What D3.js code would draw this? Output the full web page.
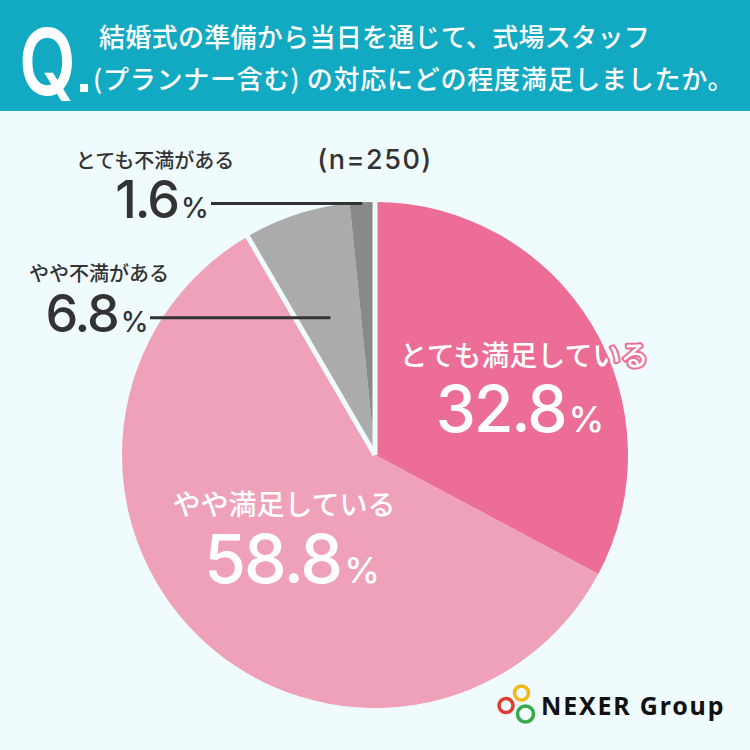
<!DOCTYPE html>
<html>
<head>
<meta charset="utf-8">
<script src="https://cdn.jsdelivr.net/npm/d3@7"></script>
<style>
  html, body { margin: 0; padding: 0; background: #f0fbfd; }
  svg { display: block; }
</style>
</head>
<body>
<div id="chart"></div>
<script>
// survey data
var categories = ["とても満足している", "やや満足している", "やや不満がある", "とても不満がある"];
var values = [32.8, 58.8, 6.8, 1.6];
var colors = ["#ec6d95", "#f0a1ba", "#ababab", "#898989"];
var titleLines = ["結婚式の準備から当日を通じて、式場スタッフ", "(プランナー含む) の対応にどの程度満足しましたか。"];
var sampleLabel = "(n=250)";

var width = 750, height = 750;
var cx = 375, cy = 455, radius = 253;
var jp = "'Noto Sans CJK JP', 'Noto Sans', sans-serif";
var num = "Inter, 'Noto Sans', sans-serif";

var svg = d3.select("#chart").append("svg")
    .attr("width", width)
    .attr("height", height);

svg.append("rect").attr("width", width).attr("height", height).attr("fill", "#f0fbfd");

// header band
svg.append("rect").attr("width", width).attr("height", 111).attr("fill", "#12aac2");
svg.append("text")
    .attr("transform", "translate(19,95) scale(0.8,1)")
    .attr("font-family", num)
    .attr("font-weight", 600)
    .attr("font-size", 92)
    .attr("fill", "#fff")
    .text("Q");
svg.append("rect").attr("x", 80).attr("y", 84).attr("width", 8).attr("height", 8).attr("fill", "#fff");
svg.append("text")
    .attr("x", 99).attr("y", 47)
    .attr("font-family", jp).attr("font-size", 26).attr("font-weight", 500)
    .attr("letter-spacing", 0.3)
    .attr("fill", "#fff")
    .text(titleLines[0]);
svg.append("text")
    .attr("x", 93).attr("y", 89)
    .attr("font-family", jp).attr("font-size", 26).attr("font-weight", 500)
    .attr("letter-spacing", 0.75)
    .attr("fill", "#fff")
    .text(titleLines[1]);

// pie
var pie = d3.pie().sort(null).value(function (d) { return d; });
var arcs = pie(values);
var arc = d3.arc().innerRadius(0).outerRadius(radius);
var chart = svg.append("g").attr("transform", "translate(" + cx + "," + cy + ")");

chart.selectAll("path.slice")
    .data(arcs)
    .enter().append("path")
    .attr("class", "slice")
    .attr("d", arc)
    .attr("fill", function (d, i) { return colors[i]; });

// white separators: between the satisfied group and the unsatisfied group
var sepAngles = [0, arcs[1].endAngle];
sepAngles.forEach(function (a) {
    chart.append("line")
        .attr("x1", 0).attr("y1", 0)
        .attr("x2", Math.sin(a) * (radius + 2))
        .attr("y2", -Math.cos(a) * (radius + 2))
        .attr("stroke", "#f0fbfd")
        .attr("stroke-width", 5);
});

// percentage label: big number + small %
function pctLabel(g, x, y, value, size, pctSize, fill) {
    var t = g.append("text")
        .attr("x", x).attr("y", y)
        .attr("text-anchor", "middle")
        .attr("font-family", num)
        .attr("font-weight", 500)
        .attr("fill", fill)
        .attr("letter-spacing", -2);
    t.append("tspan").attr("font-size", size).text(value.toFixed(1));
    t.append("tspan").attr("font-size", pctSize).attr("dx", 3).text("%");
    return t;
}

svg.append("text")
    .attr("x", 524).attr("y", 366)
    .attr("text-anchor", "middle")
    .attr("font-family", jp).attr("font-size", 28).attr("font-weight", 500)
    .attr("fill", "#fff")
    .attr("stroke", colors[0]).attr("stroke-width", 4)
    .attr("stroke-linejoin", "round")
    .attr("paint-order", "stroke")
    .text(categories[0]);
pctLabel(svg, 519, 432, values[0], 64, 36, "#fff");

svg.append("text")
    .attr("x", 284).attr("y", 515)
    .attr("text-anchor", "middle")
    .attr("font-family", jp).attr("font-size", 28).attr("font-weight", 500)
    .attr("fill", "#fff")
    .text(categories[1]);
pctLabel(svg, 291, 583, values[1], 68, 36, "#fff");

// outside labels with leader lines
var outside = [
    { i: 3, nameX: 155, nameY: 168, numX: 161, numY: 218, lineX: 211, r: 0.995 },
    { i: 2, nameX: 99, nameY: 281, numX: 96, numY: 332, lineX: 150, r: 0.57 }
];
outside.forEach(function (o) {
    var a = (arcs[o.i].startAngle + arcs[o.i].endAngle) / 2;
    var px = cx + Math.sin(a) * radius * o.r;
    var py = cy - Math.cos(a) * radius * o.r;
    svg.append("line")
        .attr("x1", o.lineX).attr("y1", py)
        .attr("x2", px).attr("y2", py)
        .attr("stroke", "#333").attr("stroke-width", 3);
    svg.append("text")
        .attr("x", o.nameX).attr("y", o.nameY)
        .attr("text-anchor", "middle")
        .attr("font-family", jp).attr("font-size", 20).attr("font-weight", 500)
        .attr("fill", "#333")
        .text(categories[o.i]);
    pctLabel(svg, o.numX, o.numY, values[o.i], 52, 28, "#333");
});

svg.append("text")
    .attr("x", 375).attr("y", 169)
    .attr("text-anchor", "middle")
    .attr("font-family", num).attr("font-size", 27).attr("font-weight", 500)
    .attr("letter-spacing", 1.5)
    .attr("fill", "#333")
    .text(sampleLabel);

// logo
var logo = svg.append("g");
[["#e23c32", 506, 705.5, 7], ["#f2b619", 521.5, 693, 7], ["#36a94a", 525.5, 714, 8]].forEach(function (c) {
    logo.append("circle")
        .attr("cx", c[1]).attr("cy", c[2]).attr("r", c[3])
        .attr("fill", "none").attr("stroke", c[0]).attr("stroke-width", 3.5);
});
logo.append("text")
    .attr("x", 541).attr("y", 715)
    .attr("font-family", "'Noto Sans', sans-serif")
    .attr("font-weight", 700).attr("font-size", 25)
    .attr("letter-spacing", 1.8)
    .attr("fill", "#111")
    .text("NEXER Group");
</script>
</body>
</html>
